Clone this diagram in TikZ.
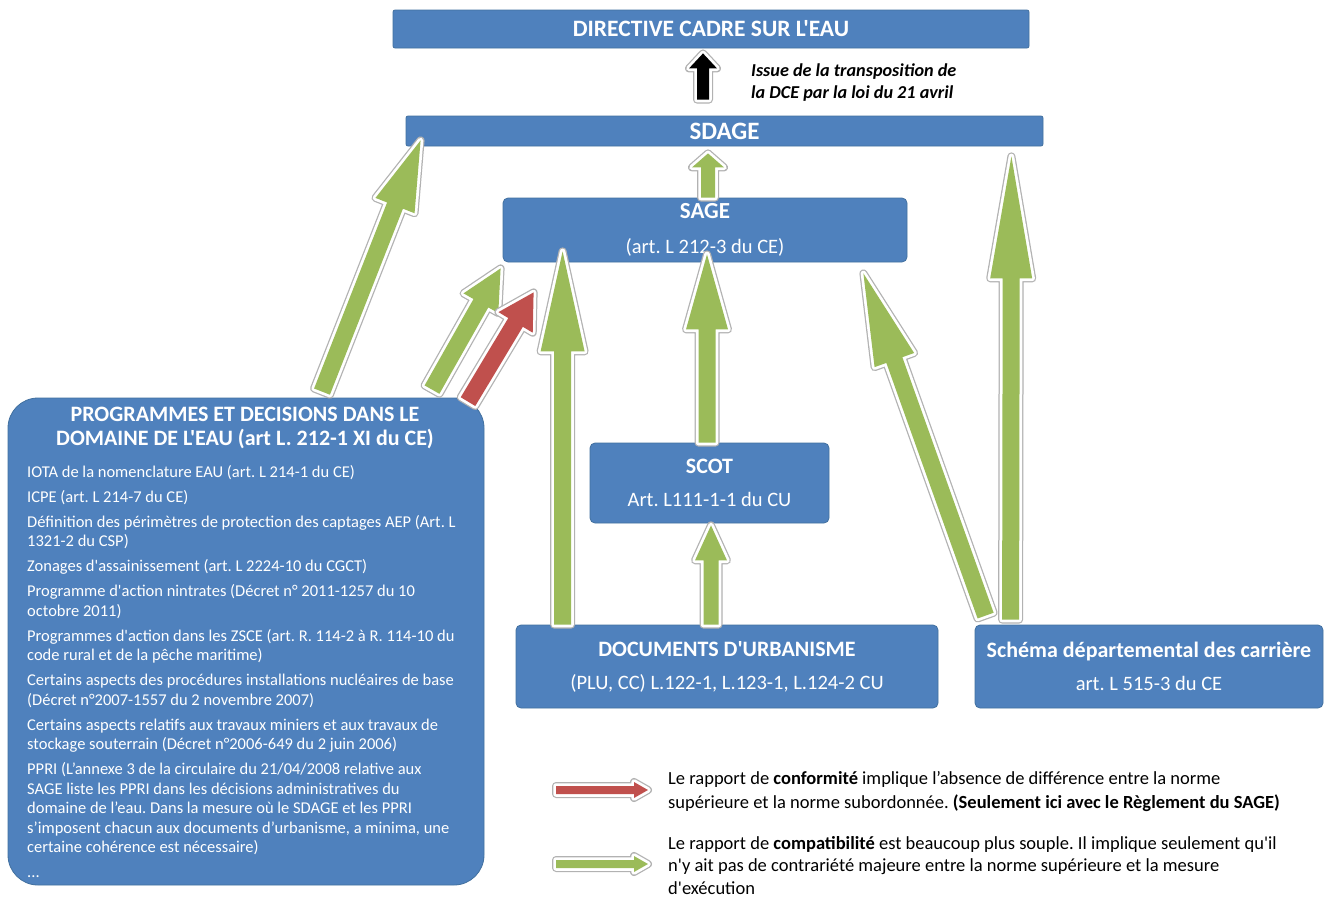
\documentclass[tikz,border=0pt]{standalone}
\usepackage{fontspec}
\setmainfont{Carlito}[Ligatures=TeXOff]
\usepackage{tikz}
\usetikzlibrary{calc}
\frenchspacing

\definecolor{bleu}{HTML}{4F81BD}
\definecolor{bleufonce}{HTML}{41709F}
\definecolor{vert}{HTML}{9BBB59}
\definecolor{rouge}{HTML}{C0504D}

\tikzset{
  boite/.style={fill=bleu, draw=bleufonce, line width=0.8pt, rounded corners=5pt,
    text=white, align=center, inner sep=0pt},
}

% fleche en bloc : couleur, depart, arrivee, demi-largeur, demi-largeur pointe, longueur pointe
\newcommand\fleche[6]{%
  \path[preaction={draw=gray!60, line width=8pt, line join=round},
        preaction={draw=white, line width=5.5pt, line join=round},
        fill=#1]
    let \p1=($(#3)-(#2)$), \n1={veclen(\x1,\y1)}, \n2={atan2(\y1,\x1)} in
    [shift={(#2)}, rotate=\n2]
    (0pt,-#4pt) -- ({\n1-#6pt},-#4pt) -- ({\n1-#6pt},-#5pt) -- ({\n1},0pt)
    -- ({\n1-#6pt},#5pt) -- ({\n1-#6pt},#4pt) -- (0pt,#4pt) -- cycle;
}

\begin{document}
\begin{tikzpicture}[x=1pt, y=-1pt]
  % Sizes
  \pgfmathsetmacro{\ecart}{5.5}
  \useasboundingbox[fill=white] (0,0) rectangle (1327,900);

  % boites
  \node[boite, rounded corners=2pt, minimum width=636pt, minimum height=38pt,
    font=\bfseries\fontsize{23.5}{28}\selectfont] (dce) at (711,29) {DIRECTIVE CADRE SUR L'EAU};
  \node[boite, rounded corners=2pt, minimum width=637pt, minimum height=30pt,
    font=\bfseries\fontsize{25}{30}\selectfont] (sdage) at (724.5,131) {SDAGE};
  \node[boite, minimum width=404pt, minimum height=64pt, font=\fontsize{20.5}{35}\selectfont]
    (sage) at (705,230) {{\bfseries\fontsize{23}{35}\selectfont SAGE}\\(art. L 212-3 du CE)};
  \node[boite, minimum width=239pt, minimum height=80pt, font=\fontsize{20.5}{33}\selectfont]
    (scot) at (709.5,483) {{\bfseries\fontsize{22}{33}\selectfont SCOT}\\Art. L111-1-1 du CU};
  \node[boite, minimum width=422pt, minimum height=83pt, font=\fontsize{20.5}{33}\selectfont]
    (docs) at (727,666.5) {{\bfseries\fontsize{22}{33}\selectfont DOCUMENTS D'URBANISME}\\(PLU, CC) L.122-1, L.123-1, L.124-2 CU};
  \node[boite, minimum width=348pt, minimum height=83pt, font=\fontsize{20.5}{33}\selectfont]
    (schema) at (1149,666.5) {{\bfseries\fontsize{22}{33}\selectfont Schéma départemental des carrière}\\art. L 515-3 du CE};
  \node[boite, rounded corners=30pt, minimum width=476pt, minimum height=487pt] (prog) at (246,641.5) {};
  \node[text=white, align=center, font=\bfseries\fontsize{22}{24}\selectfont] (progtitre) at (245,428)
    {PROGRAMMES ET DECISIONS DANS LE\\DOMAINE DE L'EAU (art L. 212-1 XI du CE)};
  \node[text=white, align=left, inner sep=0pt, anchor=north west, font=\fontsize{16.5}{19.5}\selectfont]
    (progliste) at (27,465) {IOTA de la nomenclature EAU (art. L 214-1 du CE)\\[\ecart pt]
    ICPE (art. L 214-7 du CE)\\[\ecart pt]
    Définition des périmètres de protection des captages AEP (Art. L\\
    1321-2 du CSP)\\[\ecart pt]
    Zonages d'assainissement (art. L 2224-10 du CGCT)\\[\ecart pt]
    Programme d'action nintrates (Décret n° 2011-1257 du 10\\
    octobre 2011)\\[\ecart pt]
    Programmes d'action dans les ZSCE (art. R. 114-2 à R. 114-10 du\\
    code rural et de la pêche maritime)\\[\ecart pt]
    Certains aspects des procédures installations nucléaires de base\\
    (Décret n°2007-1557 du 2 novembre 2007)\\[\ecart pt]
    Certains aspects relatifs aux travaux miniers et aux travaux de\\
    stockage souterrain (Décret n°2006-649 du 2 juin 2006)\\[\ecart pt]
    PPRI (L’annexe 3 de la circulaire du 21/04/2008 relative aux\\
    SAGE liste les PPRI dans les décisions administratives du\\
    domaine de l’eau. Dans la mesure où le SDAGE et les PPRI\\
    s’imposent chacun aux documents d’urbanisme, a minima, une\\
    certaine cohérence est nécessaire)\\[\ecart pt]
    ...};

  \node[anchor=north west, align=left, inner sep=0pt, font=\bfseries\itshape\fontsize{18.2}{22}\selectfont]
    (note) at (751,64) {Issue de la transposition de\\la DCE par la loi du 21 avril};

  % points d'accroche
  \coordinate (p1) at ([shift={(76,-6)}]prog.north);
  \coordinate (s1) at ([shift={(15,-6)}]sdage.south west);
  \coordinate (p2) at ([shift={(186,-8)}]prog.north);
  \coordinate (s2) at ([shift={(-2,6)}]sage.south west);
  \coordinate (p3) at ([shift={(222,4)}]prog.north);
  \coordinate (s3) at ([shift={(31,30)}]sage.south west);
  \coordinate (d1) at ([xshift=47pt]docs.north west);
  \coordinate (s4) at ([shift={(60,-11)}]sage.south west);
  \coordinate (c1) at ([xshift=-2.5pt]scot.north);
  \coordinate (s5) at ([shift={(2,-8)}]sage.south);
  \coordinate (d2) at ([xshift=-16pt]docs.north);
  \coordinate (c2) at ([shift={(1.5,2)}]scot.south);
  \coordinate (m1) at ([shift={(11,-9)}]schema.north west);
  \coordinate (s7) at ([shift={(-44,11)}]sage.south east);
  \coordinate (m2) at ([shift={(36,-5)}]schema.north west);
  \coordinate (s8) at ([shift={(-32,10)}]sdage.south east);
  \coordinate (s9) at ([shift={(3,0)}]sage.north);
  \coordinate (s10) at ([shift={(-16.5,7)}]sdage.south);
  \coordinate (s11) at ([shift={(-21.5,-16)}]sdage.north);
  \coordinate (e1) at ([shift={(-8,5)}]dce.south);

  % fleches
  \fleche{vert}{p1}{s1}{8.5}{21}{70}
  \fleche{vert}{p2}{s2}{8.5}{20}{40}
  \fleche{rouge}{p3}{s3}{8.5}{20}{35}
  \fleche{vert}{d1}{s4}{8.5}{22}{100}
  \fleche{vert}{c1}{s5}{8.5}{21}{75}
  \fleche{vert}{d2}{c2}{7.5}{16}{35}
  \fleche{vert}{m1}{s7}{8.5}{21}{92}
  \fleche{vert}{m2}{s8}{8.5}{21}{122}
  \fleche{vert}{s9}{s10}{7}{16}{14}
  \fleche{black}{s11}{e1}{6}{14}{15}

  % legende
  \coordinate (lr1) at (556,790);
  \coordinate (lr2) at (648,790);
  \coordinate (lv1) at (556,864);
  \coordinate (lv2) at (648,864);
  \fleche{rouge}{lr1}{lr2}{4}{8}{14}
  \fleche{vert}{lv1}{lv2}{4}{8}{14}
  \node[anchor=north west, align=left, inner sep=0pt, font=\fontsize{18.5}{24}\selectfont]
    (conformite) at (668,771) {Le rapport de \textbf{conformité} implique l’absence de différence entre la norme\\
    supérieure et la norme subordonnée. \textbf{(Seulement ici avec le Règlement du SAGE)}};
  \node[anchor=north west, align=left, inner sep=0pt, font=\fontsize{18.5}{22.5}\selectfont]
    (compatibilite) at (668,836) {Le rapport de \textbf{compatibilité} est beaucoup plus souple. Il implique seulement qu'il\\
    n'y ait pas de contrariété majeure entre la norme supérieure et la mesure\\
    d'exécution};
\end{tikzpicture}
\end{document}
